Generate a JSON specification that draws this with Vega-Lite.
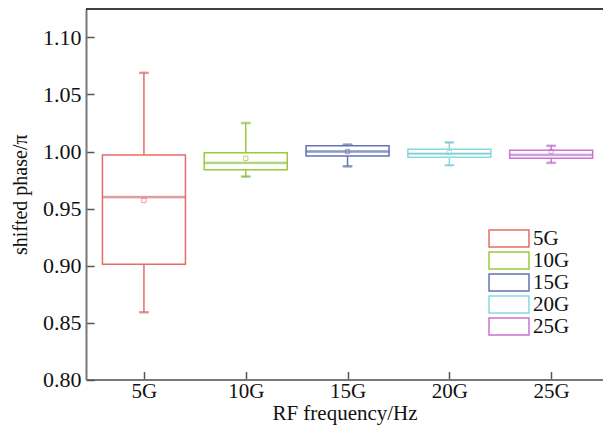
{
  "$schema": "https://vega.github.io/schema/vega-lite/v6.json",
  "width": 517,
  "height": 370.5,
  "autosize": {"type": "none"},
  "padding": {"left": 86, "top": 9, "right": 0, "bottom": 54},
  "background": "white",
  "config": {
    "view": {"stroke": null},
    "font": "Liberation Serif",
    "axis": {"labelFont": "Liberation Serif", "titleFont": "Liberation Serif", "labelColor": "#111", "titleColor": "#111", "titleFontWeight": "normal", "grid": false, "domainColor": "#777", "domainWidth": 2, "tickColor": "#555", "tickWidth": 1.5, "tickSize": -8}
  },
  "data": {
    "values": [
      {"f": 5, "g": "5G", "lo": 0.859, "q1": 0.901, "med": 0.960, "q3": 0.997, "hi": 1.069, "mean": 0.957},
      {"f": 10, "g": "10G", "lo": 0.978, "q1": 0.984, "med": 0.990, "q3": 0.999, "hi": 1.025, "mean": 0.994},
      {"f": 15, "g": "15G", "lo": 0.987, "q1": 0.996, "med": 1.000, "q3": 1.005, "hi": 1.006, "mean": 1.000},
      {"f": 20, "g": "20G", "lo": 0.988, "q1": 0.995, "med": 0.998, "q3": 1.002, "hi": 1.008, "mean": 0.999},
      {"f": 25, "g": "25G", "lo": 0.990, "q1": 0.994, "med": 0.997, "q3": 1.001, "hi": 1.005, "mean": 1.000}
    ]
  },
  "layer": [
    {
      "encoding": {
        "x": {"field": "f", "type": "quantitative",
          "scale": {"domain": [2.4, 27.3], "nice": false, "zero": false},
          "axis": {"values": [5, 10, 15, 20, 25], "labelExpr": "datum.value + 'G'", "title": "RF frequency/Hz", "labelFontSize": 21, "titleFontSize": 21, "labelPadding": 9, "titlePadding": 1}},
        "stroke": {"field": "g", "type": "nominal",
          "scale": {"domain": ["5G", "10G", "15G", "20G", "25G"], "range": ["#e86c66", "#9acb3a", "#6473b4", "#86dcdc", "#cc72d0"]},
          "legend": {"orient": "none", "legendX": 412.5, "legendY": 219, "title": null, "padding": 0,
            "symbolType": "M-2.35,-1H2.35V1H-2.35Z", "symbolSize": 289, "symbolStrokeWidth": 1.5, "symbolFillColor": "white",
            "labelFont": "Liberation Serif", "labelFontSize": 21, "labelColor": "#111", "labelOffset": 13.5, "rowPadding": -2}}
      },
      "layer": [
        {"mark": {"type": "rule", "strokeWidth": 1.5}, "encoding": {
          "y": {"field": "lo", "type": "quantitative",
            "scale": {"domain": [0.8, 1.125], "nice": false, "zero": false},
            "axis": {"values": [0.8, 0.825, 0.85, 0.875, 0.9, 0.925, 0.95, 0.975, 1.0, 1.025, 1.05, 1.075, 1.1], "labelExpr": "abs(datum.value*20 - round(datum.value*20)) < 0.01 ? format(datum.value, '.2f') : ''", "title": "shifted phase/π", "labelFontSize": 22, "titleFontSize": 20, "labelPadding": 13, "titlePadding": 12}},
          "y2": {"field": "hi"}}},
        {"mark": {"type": "bar", "size": 83, "fill": "white", "strokeWidth": 1.5}, "encoding": {
          "y": {"field": "q1", "type": "quantitative"}, "y2": {"field": "q3"}}},
        {"mark": {"type": "tick", "orient": "horizontal", "size": 9, "thickness": 1.5}, "encoding": {
          "y": {"field": "lo", "type": "quantitative"}}},
        {"mark": {"type": "tick", "orient": "horizontal", "size": 9, "thickness": 1.5}, "encoding": {
          "y": {"field": "hi", "type": "quantitative"}}},
        {"mark": {"type": "tick", "orient": "horizontal", "size": 83, "thickness": 1.5}, "encoding": {
          "y": {"field": "med", "type": "quantitative"}}},
        {"mark": {"type": "point", "shape": "square", "filled": false, "size": 18, "strokeWidth": 1}, "encoding": {
          "y": {"field": "mean", "type": "quantitative"}}}
      ]
    },
    {
      "data": {"values": [{"top": 1.125}]},
      "mark": {"type": "rule", "color": "black", "strokeWidth": 1.5},
      "encoding": {"y": {"field": "top", "type": "quantitative"}}
    }
  ]
}
